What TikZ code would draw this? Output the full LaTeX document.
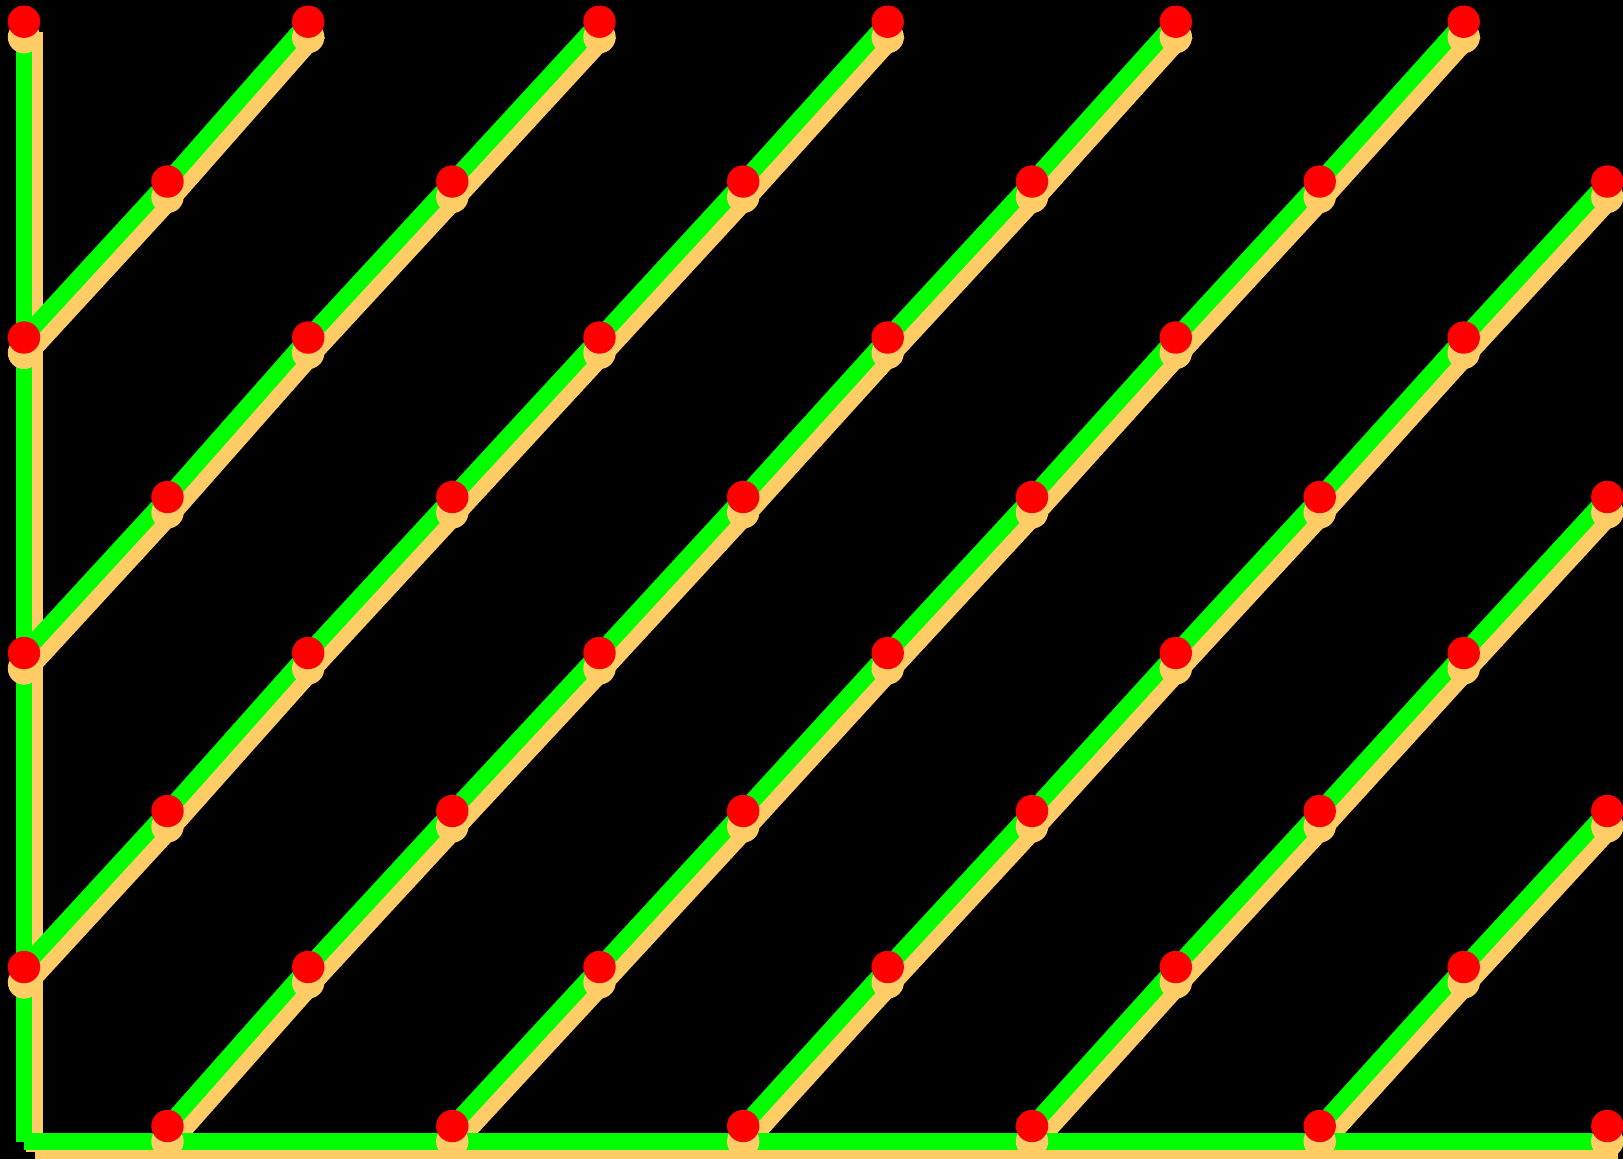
\documentclass[tikz,border=0pt]{standalone}
\definecolor{lgreen}{HTML}{00FF00}
\definecolor{lorange}{HTML}{FFCC66}
\definecolor{lred}{HTML}{FF0000}
\begin{document}
\begin{tikzpicture}[x=1pt,y=-1pt,
  greenline/.style={draw=lgreen,line width=16.7pt},
  shadowline/.style={draw=lorange,line width=16.7pt},
  reddot/.style={circle,fill=lred,minimum size=32.4pt,inner sep=0pt},
  shadowdot/.style={circle,fill=lorange,minimum size=32.4pt,inner sep=0pt}]
\fill[black] (0,0) rectangle (1623,1159);
\useasboundingbox (0,0) rectangle (1623,1159);
\foreach \c/\x in {0/24,1/167.5,2/308.2,3/452.3,4/599.5,5/743.2,6/887.7,7/1032,8/1175.8,9/1319.7,10/1463.7,11/1607.3}{
  \foreach \r/\y in {0/21.7,1/181.5,2/337.5,3/497,4/653,5/811,6/967,7/1126}{
    \coordinate (p-\c-\r) at (\x,\y);
  }
}
\coordinate (o) at (24,1141.7);
\coordinate (e) at (1607.3,1141.7);
% shadow lines
\draw[shadowline] ([xshift=10.7pt,yshift=-10.7pt]p-0-0) -- ([xshift=10.7pt,yshift=-10.7pt]o);
\draw[shadowline] ([xshift=10.7pt,yshift=-10.7pt]o) -- ([xshift=10.7pt,yshift=-10.7pt]e);
\foreach \k/\a/\b in {2/0/2, 4/0/4, 6/0/6, 8/1/8, 10/3/10, 12/5/11, 14/7/11, 16/9/11}{
  \pgfmathtruncatemacro{\ra}{\k-\a}
  \pgfmathtruncatemacro{\an}{\a+1}
  \draw[shadowline] ([xshift=10.7pt,yshift=-10.7pt]p-\a-\ra)
    \foreach \c [evaluate=\c as \r using {int(\k-\c)}] in {\an,...,\b} { -- ([xshift=10.7pt,yshift=-10.7pt]p-\c-\r) };
}
% green lines
\draw[greenline] (p-0-0) -- (o);
\draw[greenline] (o) -- (e);
\foreach \k/\a/\b in {2/0/2, 4/0/4, 6/0/6, 8/1/8, 10/3/10, 12/5/11, 14/7/11, 16/9/11}{
  \pgfmathtruncatemacro{\ra}{\k-\a}
  \pgfmathtruncatemacro{\an}{\a+1}
  \draw[greenline] (p-\a-\ra)
    \foreach \c [evaluate=\c as \r using {int(\k-\c)}] in {\an,...,\b} { -- (p-\c-\r) };
}
% dots
\foreach \c in {0,...,11}{
  \foreach \r in {0,...,7}{
    \pgfmathtruncatemacro{\pty}{mod(\c+\r,2)}
    \ifnum\pty=0
      \node[shadowdot] (s-\c-\r) at ([yshift=-15.4pt]p-\c-\r) {};
    \fi
  }
}
\foreach \c in {0,...,11}{
  \foreach \r in {0,...,7}{
    \pgfmathtruncatemacro{\pty}{mod(\c+\r,2)}
    \ifnum\pty=0
      \node[reddot] (d-\c-\r) at (p-\c-\r) {};
    \fi
  }
}
\end{tikzpicture}
\end{document}
